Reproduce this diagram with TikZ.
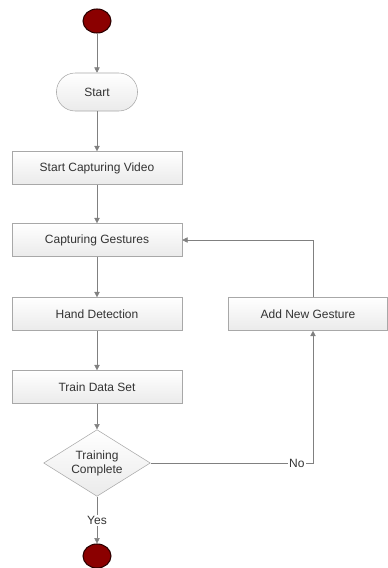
\documentclass[tikz,border=0pt]{standalone}
\usepackage{fontspec}
\setmainfont{Liberation Sans}
\usetikzlibrary{positioning, arrows.meta, shapes.geometric, calc}
\definecolor{mDark}{HTML}{8B0000}
\definecolor{mLine}{HTML}{808080}
\definecolor{mBorder}{HTML}{A8A8A8}

\begin{document}
\begin{tikzpicture}[
  x=0.75pt, y=-0.75pt,
  font=\fontsize{9}{10.5}\selectfont, text=black!80,
  proc/.style={draw=mBorder, top color=white, bottom color=black!8,
               minimum width=127.5pt, minimum height=24.75pt, align=center},
  term/.style={draw=mBorder, top color=white, bottom color=black!8,
               rounded corners=14pt, minimum width=60.75pt, minimum height=28.5pt},
  decide/.style={diamond, draw=mBorder, top color=white, bottom color=black!8,
                 minimum width=80pt, minimum height=50pt, inner sep=0pt,
                 align=center, aspect=1.6},
  dot/.style={ellipse, draw=black!70!mDark, fill=mDark, line width=0.8pt,
              minimum width=21pt, minimum height=18pt, inner sep=0pt},
  flow/.style={draw=mLine, -{Triangle[length=4pt, width=4pt]}},
]
  \useasboundingbox (0,0) rectangle (387,568);
  \node[dot]    (init)    at (97, 21)  {};
  \node[term]   (start)   at (97, 92)  {Start};
  \node[proc]   (video)   at (97,168)  {Start Capturing Video};
  \node[proc]   (gest)    at (97,240)  {Capturing Gestures};
  \node[proc]   (hand)    at (97,314)  {Hand Detection};
  \node[proc]   (train)   at (97,387)  {Train Data Set};
  \node[decide] (done)    at (97,463)  {Training\\Complete};
  \node[proc, minimum width=119.25pt] (addg) at (308,314) {Add New Gesture};
  \node[dot]    (final)   at (97,556)  {};
  \coordinate (noturn) at (313,463);

  \draw[flow] (init) -- (start);
  \draw[flow] (start) -- (video);
  \draw[flow] (video) -- (gest);
  \draw[flow] (gest) -- (hand);
  \draw[flow] (hand) -- (train);
  \draw[flow] (train) -- (done);
  \draw[flow] (done) -- node[fill=white, inner sep=1pt] {Yes} (final);
  \draw[flow] (done.east) -- node[pos=0.9, fill=white, inner sep=1pt] {No}
    (noturn) -- (noturn |- addg.south);
  \draw[flow] (noturn |- addg.north) |- (gest.east);
\end{tikzpicture}
\end{document}
